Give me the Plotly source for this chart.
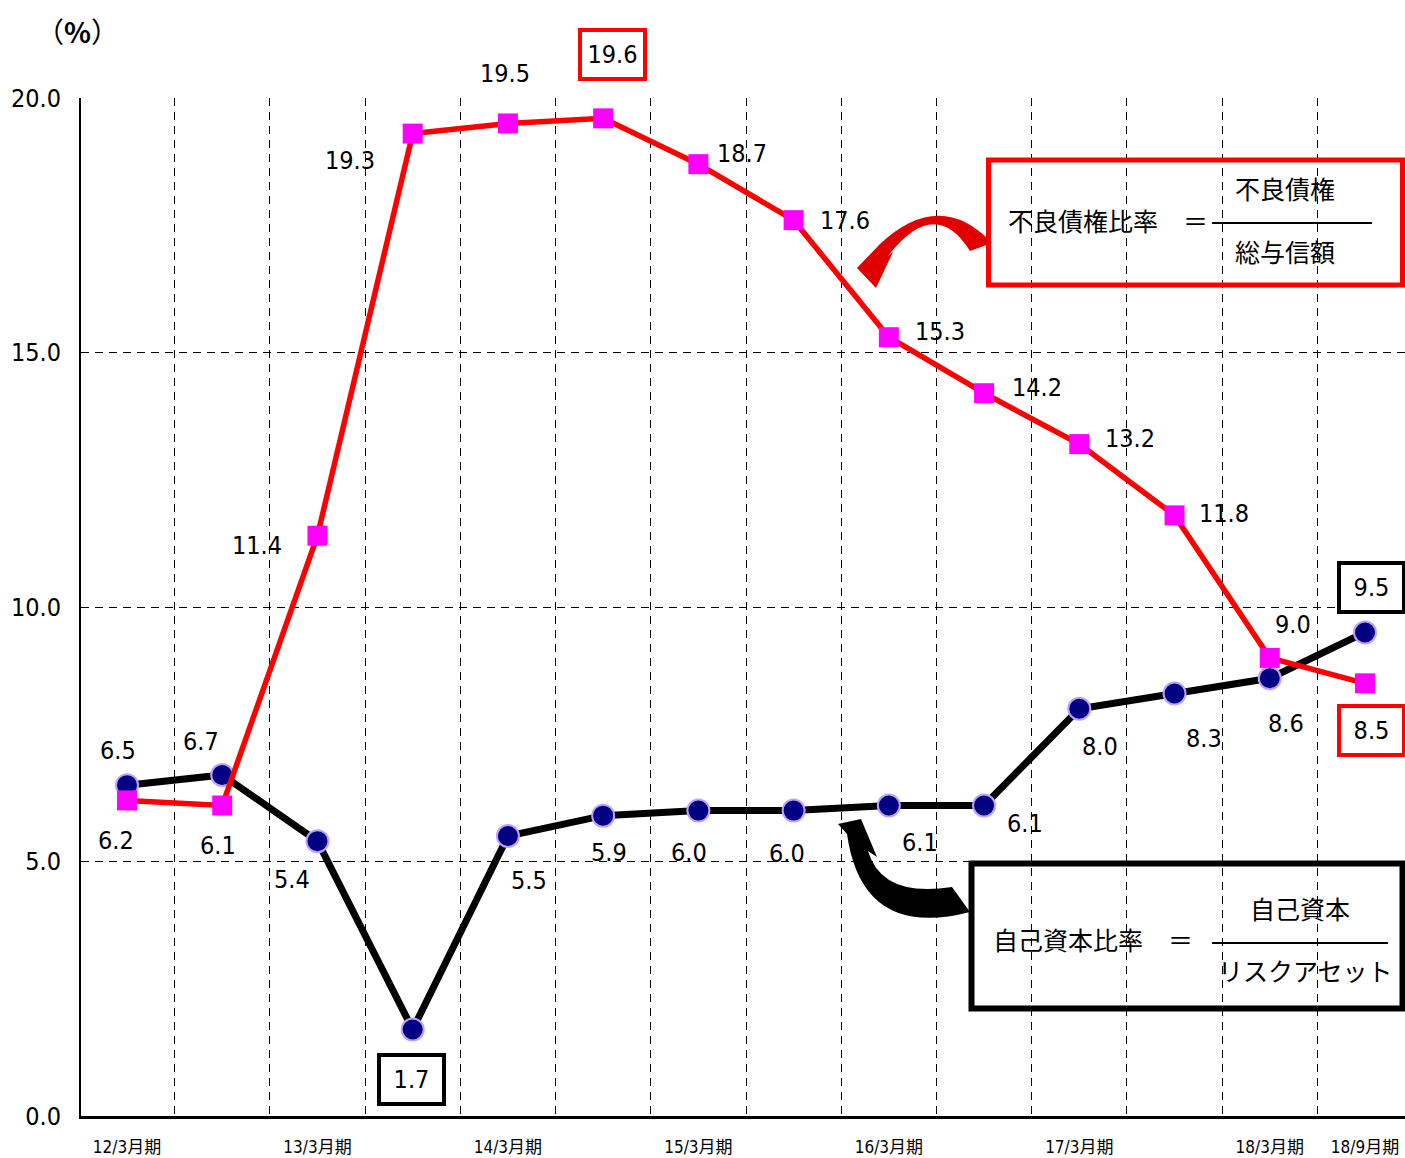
import plotly.graph_objects as go

# ---------------- data ----------------
periods = ["12/3月期", "12/9月期", "13/3月期", "13/9月期", "14/3月期", "14/9月期", "15/3月期",
           "15/9月期", "16/3月期", "16/9月期", "17/3月期", "17/9月期", "18/3月期", "18/9月期"]
npl_ratio = [6.2, 6.1, 11.4, 19.3, 19.5, 19.6, 18.7, 17.6, 15.3, 14.2, 13.2, 11.8, 9.0, 8.5]
capital_ratio = [6.5, 6.7, 5.4, 1.7, 5.5, 5.9, 6.0, 6.0, 6.1, 6.1, 8.0, 8.3, 8.6, 9.5]
shown_ticks = ["12/3月期", "13/3月期", "14/3月期", "15/3月期", "16/3月期", "17/3月期", "18/3月期", "18/9月期"]
y_ticks = [0, 5, 10, 15, 20]
npl_boxed = [5, 13]      # indices whose labels are boxed
cap_boxed = [3, 13]

# ---------------- layout helpers ----------------
W, H = 1405, 1158
ML, MR, MT, MB = 81, 0, 98, 42
NUM_FONT = "DejaVu Sans Condensed, Liberation Sans Narrow, Arial Narrow, sans-serif"
CJK_FONT = "Noto Sans CJK JP, sans-serif"


def px(x):
    return (x - ML) / (W - ML - MR)


def py(y):
    return (H - MB - y) / (H - MT - MB)


def path(points):
    out = []
    for cmd, pts in points:
        coords = " ".join(f"{px(a):.5f},{py(b):.5f}" for a, b in pts)
        out.append(f"{cmd} {coords}")
    return " ".join(out) + " Z"


xs = list(range(len(periods)))

# label pixel offsets (dx right, dy down)
npl_off = [(-11, 40), (-4, 40), (-60, 10), (-63, 27), (-3, -50), (9, -64), (44, -11),
           (51, 0), (51, -6), (53, -6), (51, -6), (49, -2), (23, -33), (6, 47)]
cap_off = [(-9, -35), (-21, -33), (-25, 38), (-1, 50), (21, 44), (6, 37), (-9, 42),
           (-7, 43), (31, 37), (41, 18), (21, 38), (29, 45), (16, 45), (6, -45)]

fig = go.Figure()

fig.add_trace(go.Scatter(
    x=xs, y=capital_ratio, mode="lines+markers", name="自己資本比率",
    line=dict(color="black", width=7),
    marker=dict(symbol="circle", size=22, color="#000080",
                line=dict(color="rgb(190,160,255)", width=2)),
    cliponaxis=False, hoverinfo="skip"))

fig.add_trace(go.Scatter(
    x=xs, y=npl_ratio, mode="lines+markers", name="不良債権比率",
    line=dict(color="#FF0000", width=5.5),
    marker=dict(symbol="square", size=20, color="#FF00FF"),
    cliponaxis=False, hoverinfo="skip"))

annotations = []


def add_labels(values, offsets, boxed, color):
    for i, (v, (dx, dy)) in enumerate(zip(values, offsets)):
        a = dict(x=xs[i], y=v, xref="x", yref="y", text=f"{v:.1f}", showarrow=False,
                 xshift=dx, yshift=-dy, font=dict(family=NUM_FONT, size=25, color="black"))
        if i in boxed:
            a.update(bordercolor=color, borderwidth=4, borderpad=2, width=57, height=41,
                     bgcolor="white")
        annotations.append(a)


add_labels(npl_ratio, npl_off, npl_boxed, "#FF0000")
add_labels(capital_ratio, cap_off, cap_boxed, "black")

# unit label
annotations.append(dict(x=px(77), y=py(31), xref="paper", yref="paper", text="（<b>%</b>）",
                        showarrow=False, xanchor="center", yanchor="middle",
                        font=dict(family=CJK_FONT, size=28, color="black")))


# formula texts
def ptext(x, y, t, anchor="center"):
    annotations.append(dict(x=px(x), y=py(y), xref="paper", yref="paper", text=t,
                            showarrow=False, xanchor=anchor, yanchor="middle",
                            font=dict(family=CJK_FONT, size=25, color="black")))


ptext(1006, 220, "不良債権比率　＝", "left")
ptext(1285, 188, "不良債権")
ptext(1285, 251, "総与信額")
ptext(991, 939, "自己資本比率　＝", "left")
ptext(1300, 908, "自己資本")
ptext(1305, 970, "リスクアセット")

shapes = [
    # red formula box
    dict(type="rect", xref="paper", yref="paper", x0=px(988.5), x1=px(1402.5),
         y0=py(160), y1=py(285), line=dict(color="#FF0000", width=5)),
    dict(type="line", xref="paper", yref="paper", x0=px(1212), x1=px(1372),
         y0=py(223), y1=py(223), line=dict(color="black", width=2)),
    # black formula box
    dict(type="rect", xref="paper", yref="paper", x0=px(971.5), x1=px(1402.5),
         y0=py(863.5), y1=py(1008.5), line=dict(color="black", width=6)),
    dict(type="line", xref="paper", yref="paper", x0=px(1212), x1=px(1388),
         y0=py(943), y1=py(943), line=dict(color="black", width=2)),
    # red curved arrow
    dict(type="path", xref="paper", yref="paper", line=dict(width=0),
         fillcolor="rgb(225,0,0)",
         path=path([("M", [(992, 243)]), ("Q", [(940, 188), (880, 244)]),
                    ("L", [(857, 268)]), ("L", [(876, 288)]), ("L", [(893, 252)]),
                    ("L", [(888, 256)]), ("Q", [(935, 195), (970, 251)])])),
    # black curved arrow
    dict(type="path", xref="paper", yref="paper", line=dict(width=0),
         fillcolor="black",
         path=path([("M", [(970, 912)]), ("Q", [(862, 940), (847, 834)]),
                    ("L", [(838, 824)]), ("L", [(861, 819)]), ("L", [(877, 857)]),
                    ("L", [(868, 851)]), ("Q", [(882, 898), (952, 887)])])),
]

fig.update_layout(
    width=W, height=H,
    margin=dict(l=ML, r=MR, t=MT, b=MB, pad=0),
    plot_bgcolor="white", paper_bgcolor="white",
    showlegend=False,
    annotations=annotations,
    shapes=shapes,
    xaxis=dict(
        range=[-0.483, 13.42], tickmode="array",
        tickvals=[periods.index(t) for t in shown_ticks], ticktext=shown_ticks,
        ticks="", showgrid=False, zeroline=False,
        showline=True, linecolor="black", linewidth=3,
        tickfont=dict(family=NUM_FONT.replace("sans-serif", "Noto Sans CJK JP"), size=17, color="black"),
        ticklabelstandoff=14,
        minor=dict(tickmode="array", tickvals=[i + 0.5 for i in range(len(periods) - 1)],
                   showgrid=True, gridcolor="black", gridwidth=1, griddash="8px,6px", ticks=""),
    ),
    yaxis=dict(
        range=[0, 20], tickmode="array", tickvals=y_ticks, tickformat=".1f",
        ticks="", showgrid=False, zeroline=False,
        showline=True, linecolor="black", linewidth=2,
        tickfont=dict(family=NUM_FONT, size=25, color="black"),
        ticklabelstandoff=13,
        minor=dict(tickmode="array", tickvals=[5, 10, 15],
                   showgrid=True, gridcolor="black", gridwidth=1, griddash="8px,6px", ticks=""),
    ),
)

fig.write_html("out.html")
